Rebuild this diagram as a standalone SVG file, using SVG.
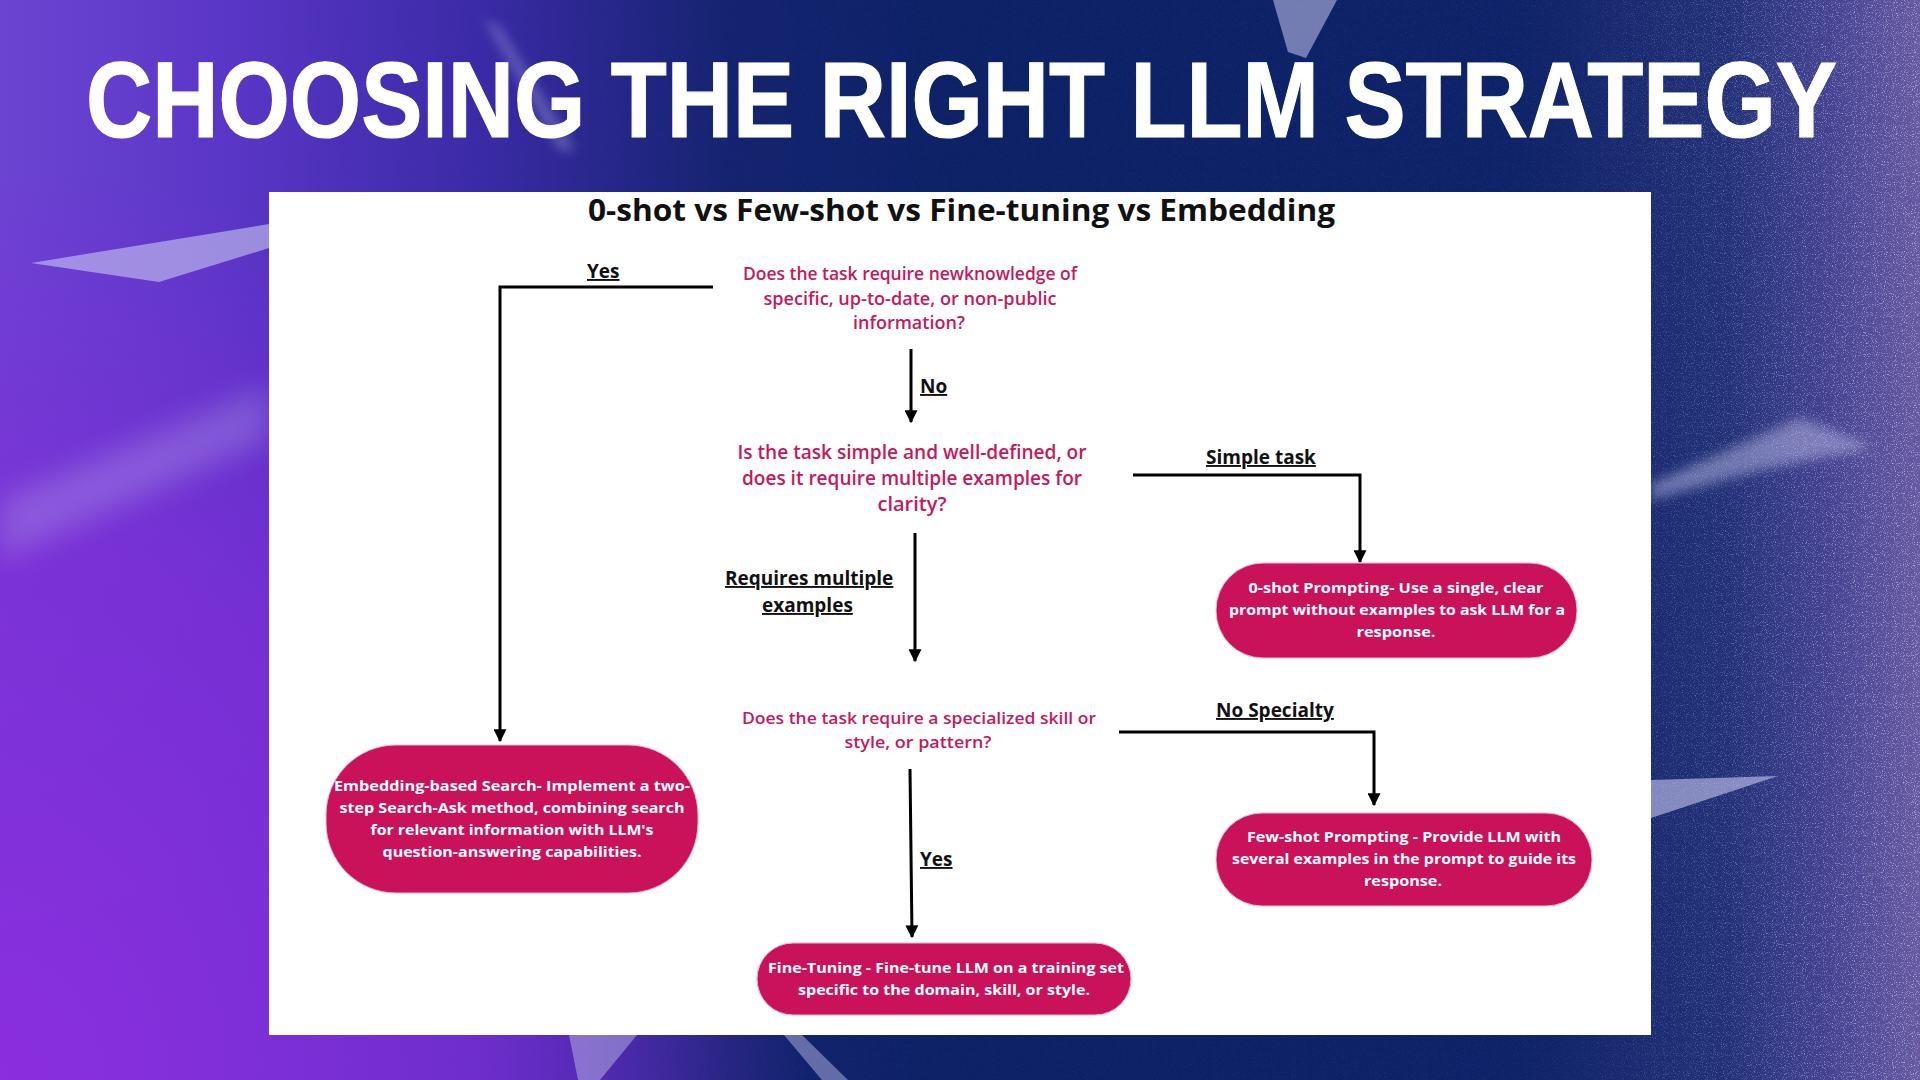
<svg xmlns="http://www.w3.org/2000/svg" width="1920" height="1080" viewBox="0 0 1920 1080">
<defs>
<linearGradient id="bgH" x1="0" y1="0" x2="1" y2="0">
<stop offset="0" stop-color="#6c44d2"/>
<stop offset="0.12" stop-color="#5a36c6"/>
<stop offset="0.25" stop-color="#3a2aa6"/>
<stop offset="0.38" stop-color="#14236f"/>
<stop offset="0.5" stop-color="#0c2166"/>
<stop offset="0.9" stop-color="#0d2268"/>
<stop offset="0.95" stop-color="#2b2f82"/>
<stop offset="1" stop-color="#5a4a98"/>
</linearGradient>
<radialGradient id="bgBL" cx="0" cy="1" r="1" gradientUnits="objectBoundingBox" gradientTransform="translate(0,1) scale(0.42,0.85) translate(0,-1)">
<stop offset="0" stop-color="#8a2ede" stop-opacity="1"/>
<stop offset="0.6" stop-color="#7e2ed8" stop-opacity="0.75"/>
<stop offset="1" stop-color="#7a2bd8" stop-opacity="0"/>
</radialGradient>
<linearGradient id="bgR" x1="0" y1="0" x2="1" y2="0">
<stop offset="0" stop-color="#6a5aa8" stop-opacity="0"/>
<stop offset="1" stop-color="#7a6ab0" stop-opacity="0.4"/>
</linearGradient>
<filter id="noise" x="0" y="0" width="100%" height="100%">
<feTurbulence type="fractalNoise" baseFrequency="0.9" numOctaves="2" seed="3"/>
<feColorMatrix type="matrix" values="0 0 0 0 0.55  0 0 0 0 0.72  0 0 0 0 0.88  0 0 0 3 -1.6"/>
</filter>
<filter id="blur6"><feGaussianBlur stdDeviation="6"/></filter>
<filter id="blur14"><feGaussianBlur stdDeviation="14"/></filter>
<marker id="arrow" viewBox="0 0 10 10" refX="9" refY="5" markerWidth="13" markerHeight="13" markerUnits="userSpaceOnUse" orient="auto">
<path d="M0,0 L10,5 L0,10 z" fill="#000"/>
</marker>
<linearGradient id="fadeR" x1="0" y1="0" x2="1" y2="0">
<stop offset="0" stop-color="#fff" stop-opacity="0"/>
<stop offset="0.82" stop-color="#fff" stop-opacity="0.1"/>
<stop offset="0.92" stop-color="#fff" stop-opacity="0.6"/>
<stop offset="1" stop-color="#fff" stop-opacity="1"/>
</linearGradient>
<mask id="rightMask"><rect x="0" y="0" width="1920" height="1080" fill="url(#fadeR)"/></mask>
</defs>
<style>
.title{font-family:"Liberation Sans","DejaVu Sans",sans-serif;font-weight:700;fill:#ffffff;}
.sub{font-family:"Open Sans","Liberation Sans",sans-serif;font-weight:700;fill:#111111;}
.q{font-family:"Open Sans","Liberation Sans",sans-serif;font-weight:600;fill:#c4195d;text-anchor:middle;}
.lbl{font-family:"Open Sans","Liberation Sans",sans-serif;font-weight:700;fill:#111111;font-size:19px;text-decoration:underline;}
.node rect{fill:#c9125a;stroke:#f3b8cf;stroke-width:1;}
.nt{font-family:"Open Sans","Liberation Sans",sans-serif;font-weight:700;fill:#ffffff;font-size:15px;text-anchor:middle;}
.conn path{fill:none;stroke:#000;stroke-width:3;}
.streak{fill:#c8c8f0;}
</style>

<!-- background -->
<rect x="0" y="0" width="1920" height="1080" fill="url(#bgH)"/>
<rect x="0" y="0" width="1920" height="1080" fill="url(#bgBL)"/>
<rect x="1500" y="0" width="420" height="1080" fill="url(#bgR)"/>
<rect x="0" y="0" width="1920" height="1080" filter="url(#noise)" mask="url(#rightMask)" opacity="0.85"/>

<!-- decorative streaks -->
<polygon class="streak" points="484,18 500,28 575,150 560,150" opacity="0.35" filter="url(#blur6)"/>
<polygon class="streak" points="1273,0 1337,0 1306,58 1288,52" opacity="0.55"/>
<polygon class="streak" points="31,263 269,224 269,248 159,282" opacity="0.6"/>
<polygon class="streak" points="0,500 269,385 269,440 0,560" opacity="0.25" filter="url(#blur14)"/>
<polygon class="streak" points="1651,484 1800,418 1873,447 1760,470 1651,500" opacity="0.45" filter="url(#blur6)"/>
<polygon class="streak" points="1651,780 1778,776 1651,818" opacity="0.6"/>
<polygon class="streak" points="569,1035 637,1035 600,1080 578,1080" opacity="0.45"/>
<polygon class="streak" points="784,1035 802,1035 848,1080 822,1080" opacity="0.45"/>

<!-- title -->
<text class="title" transform="translate(86,137) scale(1,1.22)" x="0" y="0" font-size="88" textLength="1751" lengthAdjust="spacingAndGlyphs" stroke="#ffffff" stroke-width="1">CHOOSING THE RIGHT LLM STRATEGY</text>

<!-- white panel -->
<rect x="269" y="192" width="1382" height="843" fill="#ffffff"/>
<text class="sub" x="588" y="221" font-size="31" textLength="747" lengthAdjust="spacingAndGlyphs">0-shot vs Few-shot vs Fine-tuning vs Embedding</text>

<!-- questions -->
<g id="q1">
<text class="q" x="910" y="280" font-size="18" textLength="334" lengthAdjust="spacingAndGlyphs">Does the task require newknowledge of</text>
<text class="q" x="910" y="305" font-size="18" textLength="293" lengthAdjust="spacingAndGlyphs">specific, up-to-date, or non-public</text>
<text class="q" x="909" y="329" font-size="18" textLength="112" lengthAdjust="spacingAndGlyphs">information?</text>
</g>
<g id="q2">
<text class="q" x="912" y="459" font-size="20" textLength="349" lengthAdjust="spacingAndGlyphs">Is the task simple and well-defined, or</text>
<text class="q" x="912" y="485" font-size="20" textLength="340" lengthAdjust="spacingAndGlyphs">does it require multiple examples for</text>
<text class="q" x="912" y="511" font-size="20" textLength="69" lengthAdjust="spacingAndGlyphs">clarity?</text>
</g>
<g id="q3">
<text class="q" x="919" y="724" font-size="17" textLength="354" lengthAdjust="spacingAndGlyphs">Does the task require a specialized skill or</text>
<text class="q" x="918" y="748" font-size="17" textLength="147" lengthAdjust="spacingAndGlyphs">style, or pattern?</text>
</g>

<!-- connectors -->
<g id="connectors" class="conn">
<path d="M713,287 H500 V741" marker-end="url(#arrow)"/>
<path d="M911,349 V422" marker-end="url(#arrow)"/>
<path d="M1133,475 H1360 V562" marker-end="url(#arrow)"/>
<path d="M915,533 V661" marker-end="url(#arrow)"/>
<path d="M1119,732 H1374 V805" marker-end="url(#arrow)"/>
<path d="M910,769 L912,937" marker-end="url(#arrow)"/>
</g>

<!-- connector labels -->
<g id="labels">
<text class="lbl" x="587" y="278">Yes</text>
<text class="lbl" x="920" y="393">No</text>
<text class="lbl" x="1206" y="464">Simple task </text>
<text class="lbl" x="725" y="585">Requires multiple</text>
<text class="lbl" x="762" y="612">examples </text>
<text class="lbl" x="1216" y="717">No Specialty</text>
<text class="lbl" x="920" y="866">Yes</text>
</g>

<!-- nodes -->
<g id="node-embedding" class="node">
<rect x="326" y="745" width="372" height="148" rx="70" ry="70"/>
<text class="nt" x="512" y="791" textLength="356" lengthAdjust="spacingAndGlyphs">Embedding-based Search- Implement a two-</text>
<text class="nt" x="512" y="813" textLength="345" lengthAdjust="spacingAndGlyphs">step Search-Ask method, combining search</text>
<text class="nt" x="512" y="835" textLength="283" lengthAdjust="spacingAndGlyphs">for relevant information with LLM's</text>
<text class="nt" x="512" y="857" textLength="259" lengthAdjust="spacingAndGlyphs">question-answering capabilities.</text>
</g>
<g id="node-0shot" class="node">
<rect x="1216" y="563" width="361" height="95" rx="47" ry="47"/>
<text class="nt" x="1396" y="593" textLength="295" lengthAdjust="spacingAndGlyphs">0-shot Prompting- Use a single, clear</text>
<text class="nt" x="1397" y="615" textLength="336" lengthAdjust="spacingAndGlyphs">prompt without examples to ask LLM for a</text>
<text class="nt" x="1396" y="637" textLength="79" lengthAdjust="spacingAndGlyphs">response.</text>
</g>
<g id="node-fewshot" class="node">
<rect x="1216" y="813" width="376" height="93" rx="46" ry="46"/>
<text class="nt" x="1404" y="842" textLength="314" lengthAdjust="spacingAndGlyphs">Few-shot Prompting - Provide LLM with</text>
<text class="nt" x="1404" y="864" textLength="344" lengthAdjust="spacingAndGlyphs">several examples in the prompt to guide its</text>
<text class="nt" x="1403" y="886" textLength="78" lengthAdjust="spacingAndGlyphs">response.</text>
</g>
<g id="node-finetune" class="node">
<rect x="757" y="943" width="374" height="72" rx="36" ry="36"/>
<text class="nt" x="946" y="973" textLength="356" lengthAdjust="spacingAndGlyphs">Fine-Tuning - Fine-tune LLM on a training set</text>
<text class="nt" x="944" y="995" textLength="292" lengthAdjust="spacingAndGlyphs">specific to the domain, skill, or style.</text>
</g>
</svg>
